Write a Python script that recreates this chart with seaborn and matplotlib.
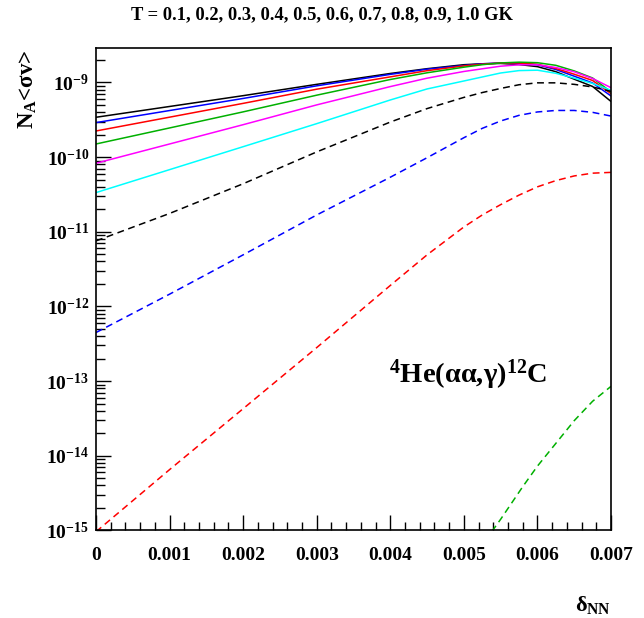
import numpy as np
import pandas as pd
import seaborn as sns
import matplotlib
matplotlib.use("Agg")
import matplotlib.pyplot as plt
from matplotlib.ticker import MultipleLocator, LogLocator, FuncFormatter, NullFormatter

delta_grid = [0, 0.001, 0.002, 0.003, 0.004, 0.0045, 0.005, 0.00525, 0.0055,
              0.00575, 0.006, 0.00625, 0.0065, 0.00675, 0.007]
delta_low = [0.0052, 0.0055, 0.0058, 0.006, 0.0065, 0.00675, 0.007]

# N_A<sigma v> for each temperature (GK)
rate_T10 = [3.42e-10, 4.77e-10, 6.66e-10, 9.44e-10, 1.32e-9, 1.53e-9, 1.73e-9, 1.78e-9,
            1.80e-9, 1.74e-9, 1.63e-9, 1.395e-9, 1.107e-9, 8.84e-10, 5.57e-10]
rate_T09 = [2.90e-10, 4.21e-10, 6.11e-10, 9.02e-10, 1.284e-9, 1.507e-9, 1.689e-9, 1.78e-9,
            1.824e-9, 1.807e-9, 1.726e-9, 1.493e-9, 1.214e-9, 9.85e-10, 6.60e-10]
rate_T08 = [2.24e-10, 3.43e-10, 5.25e-10, 8.13e-10, 1.189e-9, 1.439e-9, 1.668e-9, 1.758e-9,
            1.824e-9, 1.824e-9, 1.752e-9, 1.539e-9, 1.291e-9, 1.064e-9, 7.08e-10]
rate_T07 = [1.50e-10, 2.46e-10, 4.04e-10, 6.76e-10, 1.096e-9, 1.349e-9, 1.603e-9, 1.73e-9,
            1.828e-9, 1.871e-9, 1.841e-9, 1.698e-9, 1.429e-9, 1.148e-9, 7.46e-10]
rate_T06 = [8.28e-11, 1.50e-10, 2.72e-10, 5.01e-10, 8.81e-10, 1.142e-9, 1.404e-9, 1.525e-9,
            1.653e-9, 1.726e-9, 1.726e-9, 1.588e-9, 1.391e-9, 1.131e-9, 8.52e-10]
rate_T05 = [3.35e-11, 6.80e-11, 1.38e-10, 2.81e-10, 5.83e-10, 8.19e-10, 1.047e-9, 1.185e-9,
            1.340e-9, 1.443e-9, 1.461e-9, 1.328e-9, 1.142e-9, 9.70e-10, 7.86e-10]
rate_T04 = [7.55e-12, 1.76e-11, 4.40e-11, 1.175e-10, 2.95e-10, 4.47e-10, 6.31e-10, 7.33e-10,
            8.32e-10, 9.33e-10, 9.89e-10, 9.89e-10, 9.44e-10, 8.71e-10, 7.59e-10]
rate_T03 = [4.47e-13, 1.46e-12, 4.91e-12, 1.68e-11, 5.38e-11, 9.82e-11, 1.82e-10, 2.43e-10,
            3.05e-10, 3.63e-10, 4.03e-10, 4.22e-10, 4.22e-10, 3.98e-10, 3.55e-10]
rate_T02 = [9.6e-16, 6.52e-15, 4.27e-14, 2.81e-13, 1.91e-12, 4.91e-12, 1.16e-11, 1.68e-11,
            2.31e-11, 3.10e-11, 4.0e-11, 4.85e-11, 5.6e-11, 6.1e-11, 6.25e-11]
rate_T01 = [5.45e-16, 1.41e-15, 3.85e-15, 7.26e-15, 2.95e-14, 5.37e-14, 8.5e-14]

x_ticks = [0, 0.001, 0.002, 0.003, 0.004, 0.005, 0.006, 0.007]
title_text = "T = 0.1, 0.2, 0.3, 0.4, 0.5, 0.6, 0.7, 0.8, 0.9, 1.0 GK"

sns.set_theme(style="white")
plt.rcParams["font.family"] = ["Liberation Serif", "DejaVu Serif"]
plt.rcParams["font.weight"] = "bold"
plt.rcParams["text.color"] = "black"
plt.rcParams["mathtext.fontset"] = "custom"
plt.rcParams["mathtext.rm"] = "Liberation Serif:bold"
plt.rcParams["mathtext.it"] = "Liberation Serif:bold"
plt.rcParams["mathtext.bf"] = "Liberation Serif:bold"

fig = plt.figure(figsize=(6.44, 6.18), dpi=100)
ax = fig.add_axes([96 / 644, 1 - 530.4 / 618, 515 / 644, (530.4 - 48.3) / 618])

solid = "-"
dashed = (0, (4.5, 3))
curves = [
    (delta_grid, rate_T10, "black", solid),
    (delta_grid, rate_T09, "#0000ff", solid),
    (delta_grid, rate_T08, "#ff0000", solid),
    (delta_grid, rate_T07, "#00b000", solid),
    (delta_grid, rate_T06, "#ff00ff", solid),
    (delta_grid, rate_T05, "#00ffff", solid),
    (delta_grid, rate_T04, "black", dashed),
    (delta_grid, rate_T03, "#0000ff", dashed),
    (delta_grid, rate_T02, "#ff0000", dashed),
    (delta_low, rate_T01, "#00b000", dashed),
]
for xs, ys, col, ls in curves:
    sns.lineplot(x=xs, y=ys, ax=ax, color=col, linestyle=ls, linewidth=1.1)

ax.set_yscale("log")
ax.set_xlim(0, 0.007)
ax.set_ylim(1e-15, 2.87e-9)

ax.set_xticks(x_ticks)
ax.xaxis.set_minor_locator(MultipleLocator(0.0002))
ax.xaxis.set_major_formatter(FuncFormatter(lambda v, _: "0" if v == 0 else f"{v:.3f}"))
ax.yaxis.set_major_locator(LogLocator(base=10, numticks=20))
ax.yaxis.set_minor_locator(LogLocator(base=10, subs=np.arange(2, 10), numticks=20))
ax.yaxis.set_minor_formatter(NullFormatter())
ax.yaxis.set_major_formatter(
    FuncFormatter(lambda v, _: r"$\mathrm{10^{%d}}$" % int(round(np.log10(v)))))

ax.tick_params(axis="both", which="both", direction="in", top=False, right=False,
               bottom=True, left=True, colors="black", width=1.0)
ax.tick_params(axis="x", which="major", length=11, labelsize=14, pad=12)
ax.tick_params(axis="x", which="minor", length=5.8)
ax.tick_params(axis="y", which="major", length=11, labelsize=14, pad=5)
ax.tick_params(axis="y", which="minor", length=6.5)
for sp in ax.spines.values():
    sp.set_color("black")
    sp.set_linewidth(1.2)

fig.text(0.5, 1 - 15 / 618, title_text, ha="center", va="center",
         fontsize=13.3, fontweight="bold", color="black")
fig.text(28 / 644, 1 - 50 / 618, "N$_{\\mathrm{A}}$<σv>", rotation=90,
         ha="center", va="top", fontsize=16.5, fontweight="bold", color="black")
fig.text(611 / 644, 1 - 611 / 618, "δ$_{\\mathrm{NN}}$", ha="right", va="baseline",
         fontsize=16, fontweight="bold", color="black")
ax.text(389 / 644, 1 - 383 / 618, "$^{4}$He(αα,γ)$^{12}$C", transform=fig.transFigure,
        ha="left", va="baseline", fontsize=20.5, fontweight="bold", color="black")

fig.savefig("out.png", dpi=100, facecolor="white")
